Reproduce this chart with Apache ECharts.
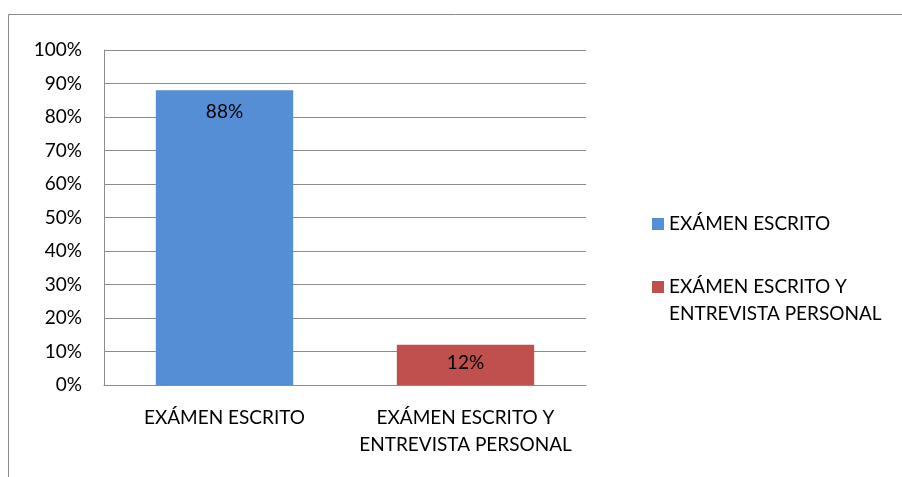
<!DOCTYPE html>
<html>
<head>
<meta charset="utf-8">
<script src="https://cdn.jsdelivr.net/npm/echarts@6/dist/echarts.min.js"></script>
<style>
  html, body { margin: 0; padding: 0; background: #fff; }
  #chart { width: 902px; height: 477px; }
</style>
</head>
<body>
<div id="chart"></div>
<script>
// categorias y valores
var categorias = ['EXÁMEN ESCRITO', 'EXÁMEN ESCRITO Y\nENTREVISTA PERSONAL'];
var serieNombres = ['EXÁMEN ESCRITO', 'EXÁMEN ESCRITO Y\nENTREVISTA PERSONAL'];
var escrito = [88, '-'];
var escritoEntrevista = ['-', 12];
var colores = ['#558ed5', '#c0504d'];

var fuente = 'Lato, sans-serif';
var chart = echarts.init(document.getElementById('chart'));

var textoLeyenda = { fontFamily: fuente, fontSize: 19, color: '#000', lineHeight: 27 };

var option = {
  animation: false,
  textStyle: { fontFamily: fuente },
  graphic: [{
    type: 'rect',
    shape: { x: 8.5, y: 14.5, width: 1000, height: 600 },
    style: { fill: 'none', stroke: '#8c8c8c', lineWidth: 1 },
    z: -1
  }],
  // una leyenda por serie, para que el cuadrito quede en la primera linea
  legend: [{
    orient: 'vertical',
    left: 647,
    top: 205.5,
    itemWidth: 12,
    itemHeight: 12,
    icon: 'rect',
    textStyle: textoLeyenda,
    data: [serieNombres[0]]
  }, {
    orient: 'vertical',
    left: 647,
    top: 268.5,
    itemWidth: 12,
    itemHeight: 39,
    textStyle: textoLeyenda,
    data: [{ name: serieNombres[1], icon: 'path://M0,0L12,0L12,12L0,12ZM0,39L0.01,39' }]
  }],
  grid: { left: 104, top: 50, width: 482, height: 335 },
  xAxis: {
    type: 'category',
    data: categorias,
    axisLine: { lineStyle: { color: '#8c8c8c' } },
    axisTick: { show: false },
    axisLabel: { interval: 0, color: '#000', fontSize: 19, margin: 19, lineHeight: 27, fontFamily: fuente }
  },
  yAxis: {
    type: 'value',
    min: 0,
    max: 100,
    interval: 10,
    axisLine: { show: true, lineStyle: { color: '#8c8c8c' } },
    axisTick: { show: false },
    splitLine: { lineStyle: { color: '#8c8c8c' } },
    axisLabel: { color: '#000', fontSize: 19, margin: 22, formatter: '{value}%', fontFamily: fuente }
  },
  series: [{
    name: serieNombres[0],
    type: 'bar',
    stack: 'total',
    barWidth: '57%',
    data: escrito,
    itemStyle: { color: colores[0] },
    label: { show: true, position: 'insideTop', distance: 12, color: '#000', fontSize: 19, formatter: '{c}%' }
  }, {
    name: serieNombres[1],
    type: 'bar',
    stack: 'total',
    barWidth: '57%',
    data: escritoEntrevista,
    itemStyle: { color: colores[1] },
    label: { show: true, position: 'insideTop', distance: 9, color: '#000', fontSize: 19, formatter: '{c}%' }
  }]
};
chart.setOption(option);
</script>
</body>
</html>
